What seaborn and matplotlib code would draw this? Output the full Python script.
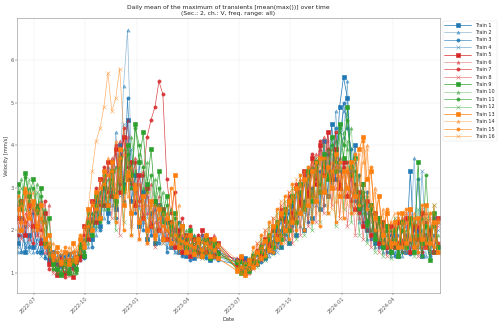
import numpy as np
import pandas as pd
import matplotlib
matplotlib.use("Agg")
import matplotlib.pyplot as plt
import matplotlib.dates as mdates
import seaborn as sns

nan = np.nan

# weekly sampling of the daily means (x axis)
dates = pd.date_range("2022-06-02", periods=108, freq="7D")

train_1 = [1.7, 2.3, 1.5, 1.9, 1.6, 2.1, 1.5, 1.7, 1.3, 1.5, 1.2, 1.4,
           1.25, 1.45, 1.15, 1.35, 1.6, 1.4, 2.1, 1.8, 2.7, 2.1, 3.0, 2.4,
           3.6, 2.5, 4.0, 3.1, 4.6, 2.7, 3.3, 2.1, 2.9, 1.8, 2.4, 1.7,
           2.6, 1.8, 2.2, 1.6, 2.0, 1.5, 1.8, 1.4, 1.9, 1.35, 1.7, 1.4,
           1.8, 1.3, 1.6, 1.5, nan, nan, nan, nan, 1.3, 1.05, 1.35, 1.1,
           1.4, 1.2, 1.6, 1.35, 1.8, 1.5, 2.0, 1.6, 2.3, 1.7, 2.6, 1.9,
           2.9, 2.0, 3.3, 2.3, 3.6, 2.5, 4.1, 2.8, 4.5, 3.2, 4.9, 5.6,
           5.1, 3.4, 4.0, 2.5, 3.1, 2.0, 2.6, 1.7, 2.3, 1.6, 2.1, 1.5,
           1.9, 1.4, 2.2, 1.5, 3.4, 1.6, 2.0, 1.4, 1.9, 1.5, 2.3, 1.6]
train_2 = [1.5, 1.9, 1.6, 2.5, 1.5, 1.8, 1.6, 1.4, 1.5, 1.25, 1.4, 1.2,
           1.35, 1.15, 1.4, 1.25, 1.3, 1.8, 1.6, 2.4, 1.9, 2.9, 2.3, 3.5,
           2.6, 4.3, 3.2, 5.4, 6.7, 3.5, 2.6, 3.1, 2.2, 2.8, 1.9, 2.5,
           1.8, 2.3, 1.6, 2.1, 1.5, 1.9, 1.45, 1.7, 1.5, 1.9, 1.4, 1.6,
           1.4, 1.7, 1.35, 1.6, nan, nan, nan, nan, 1.1, 1.3, 1.0, 1.25,
           1.15, 1.45, 1.3, 1.7, 1.4, 1.9, 1.6, 2.2, 1.8, 2.5, 2.0, 2.8,
           2.1, 3.1, 2.4, 3.5, 2.6, 3.9, 2.9, 4.3, 3.3, 4.8, 3.6, 4.2,
           5.5, 2.9, 3.6, 2.2, 2.8, 1.8, 2.4, 1.6, 2.2, 1.5, 1.9, 1.4,
           1.5, 1.9, 1.4, 2.1, 1.6, 3.7, 1.5, 2.0, 1.4, 1.8, 1.5, 2.2]
train_3 = [1.9, 1.5, 2.1, 1.6, 2.4, 1.5, 1.8, 1.35, 1.6, 1.3, 1.5, 1.15,
           1.4, 1.2, 1.5, 1.1, 1.45, 1.35, 2.2, 1.6, 2.5, 2.0, 3.2, 2.2,
           3.0, 2.3, 3.8, 2.7, 5.1, 3.3, 2.4, 3.6, 2.0, 3.0, 1.9, 2.6,
           1.7, 2.4, 1.5, 2.0, 1.6, 2.2, 1.4, 1.8, 1.3, 1.6, 1.45, 1.9,
           1.35, 1.6, 1.45, 1.3, nan, nan, nan, nan, 1.2, 1.4, 1.1, 1.3,
           1.2, 1.5, 1.25, 1.55, 1.5, 1.75, 1.7, 2.0, 1.9, 2.4, 2.1, 2.2,
           2.4, 2.7, 2.2, 3.0, 2.7, 3.4, 2.6, 3.8, 3.0, 4.4, 3.4, 5.0,
           4.4, 3.9, 2.7, 3.3, 2.2, 2.9, 1.8, 2.4, 1.6, 2.1, 1.5, 1.9,
           1.4, 1.7, 1.5, 1.9, 1.45, 2.0, 3.2, 1.5, 1.8, 1.4, 1.9, 1.6]
train_4 = [1.6, 2.0, 1.7, 1.5, 2.0, 1.7, 1.4, 1.6, 1.4, 1.5, 1.3, 1.45,
           1.2, 1.4, 1.25, 1.5, 1.35, 1.7, 1.9, 2.3, 2.0, 2.6, 2.8, 2.2,
           3.3, 3.8, 2.8, 4.5, 3.6, 3.9, 2.9, 2.5, 3.3, 2.3, 2.7, 2.0,
           2.3, 1.7, 2.0, 1.8, 1.5, 1.9, 1.6, 1.5, 1.7, 1.5, 1.8, 1.35,
           1.5, 1.45, 1.7, 1.4, nan, nan, nan, nan, 1.15, 1.25, 1.3, 1.05,
           1.3, 1.4, 1.5, 1.3, 1.65, 1.7, 1.5, 1.9, 2.1, 2.0, 2.4, 2.3,
           2.6, 2.4, 3.1, 2.6, 3.4, 2.8, 3.3, 3.6, 3.1, 4.1, 4.3, 4.8,
           4.7, 3.6, 3.1, 2.8, 2.5, 2.4, 2.2, 2.0, 1.7, 2.0, 1.6, 1.8,
           1.6, 1.5, 1.8, 1.7, 1.5, 1.9, 1.6, 3.4, 1.7, 1.9, 1.5, 2.0]
train_5 = [2.3, 2.7, 1.9, 2.6, 2.1, 2.5, 1.7, 2.4, 1.2, 1.4, 0.95, 1.2,
           1.0, 1.3, 0.9, 1.25, 1.4, 2.1, 1.8, 2.7, 2.2, 3.2, 2.6, 3.6,
           2.8, 3.9, 2.9, 4.2, 3.2, 3.6, 2.6, 3.3, 2.3, 3.0, 2.1, 2.7,
           2.0, 2.5, 1.8, 2.2, 1.6, 2.0, 1.5, 1.9, 1.4, 1.8, 1.5, 2.0,
           1.5, 1.8, 1.4, 1.7, nan, nan, nan, nan, 1.2, 1.35, 1.0, 1.3,
           1.2, 1.5, 1.4, 1.8, 1.6, 2.0, 1.8, 2.3, 2.0, 2.7, 2.3, 3.0,
           2.6, 3.4, 2.8, 3.7, 3.1, 4.0, 3.3, 4.3, 3.2, 3.9, 3.0, 3.6,
           2.8, 3.3, 2.5, 2.9, 2.1, 2.7, 1.9, 2.4, 1.7, 2.2, 1.6, 2.1,
           1.6, 2.2, 1.7, 2.3, 1.5, 2.1, 1.8, 2.4, 1.6, 2.0, 1.5, 2.3]
train_6 = [2.6, 2.0, 2.8, 1.8, 2.5, 1.9, 2.7, 1.5, 2.6, 1.1, 1.3, 1.0,
           1.2, 0.95, 1.3, 1.05, 1.7, 1.5, 2.3, 2.0, 2.9, 2.4, 3.4, 2.8,
           3.7, 3.0, 4.1, 3.3, 4.6, 3.0, 3.7, 2.6, 3.4, 2.4, 3.1, 2.2,
           2.8, 1.9, 2.4, 1.7, 2.1, 1.6, 1.9, 1.5, 1.8, 1.6, 1.9, 1.45,
           1.75, 1.5, 1.9, 1.4, nan, nan, nan, nan, 1.35, 1.1, 1.25, 1.0,
           1.4, 1.3, 1.7, 1.5, 1.9, 1.7, 2.2, 1.9, 2.5, 2.1, 2.8, 2.4,
           3.2, 2.6, 3.5, 2.9, 3.8, 3.1, 4.2, 3.4, 3.9, 3.0, 3.7, 2.8,
           3.4, 2.6, 3.0, 2.3, 2.6, 2.0, 2.4, 1.8, 2.2, 1.6, 2.0, 1.7,
           2.1, 1.6, 2.3, 1.8, 2.5, 1.7, 2.2, 1.6, 2.4, 1.9, 2.2, 1.7]
train_7 = [1.9, 2.5, 2.2, 2.8, 1.7, 2.6, 2.0, 2.7, 1.1, 1.3, 1.05, 1.35,
           0.9, 1.2, 1.1, 1.4, 1.3, 1.9, 2.5, 2.2, 3.0, 2.6, 3.5, 2.9,
           3.4, 4.0, 3.1, 4.4, 3.5, 3.1, 3.6, 2.7, 3.3, 4.2, 4.6, 4.9,
           5.5, 5.2, 3.2, 2.4, 2.9, 1.9, 2.3, 1.7, 2.1, 1.6, 1.9, 1.5,
           1.9, 1.6, 1.8, 1.5, nan, nan, nan, nan, 1.15, 1.3, 1.0, 1.25,
           1.3, 1.55, 1.45, 1.75, 1.7, 2.1, 1.9, 2.5, 2.2, 2.8, 2.4, 3.1,
           2.7, 3.3, 2.9, 3.8, 3.2, 4.1, 3.5, 3.9, 3.3, 4.3, 3.1, 3.5,
           3.6, 2.7, 3.1, 2.4, 2.8, 2.2, 2.5, 1.9, 2.3, 1.7, 2.1, 1.6,
           2.2, 1.7, 2.0, 1.6, 2.3, 1.8, 2.1, 1.5, 2.2, 1.8, 2.4, 1.7]
train_8 = [2.2, 1.8, 2.4, 2.1, 2.6, 1.9, 2.3, 1.8, 1.5, 1.0, 1.2, 0.95,
           1.15, 1.0, 1.25, 1.1, 1.5, 1.7, 1.9, 2.6, 2.4, 2.8, 3.0, 3.4,
           2.3, 3.5, 1.9, 3.2, 4.2, 2.1, 2.9, 1.8, 2.6, 1.7, 2.2, 1.6,
           2.2, 2.1, 2.0, 1.9, 1.8, 1.7, 1.65, 1.8, 1.55, 1.7, 1.6, 1.75,
           1.55, 1.7, 1.5, 1.6, nan, nan, nan, nan, 1.25, 1.15, 1.3, 1.1,
           1.1, 1.7, 1.3, 2.0, 1.5, 2.3, 1.6, 2.6, 1.8, 2.9, 1.7, 3.1,
           1.9, 3.3, 2.1, 3.6, 2.2, 3.9, 2.4, 4.1, 2.6, 3.8, 2.3, 3.5,
           2.1, 3.2, 1.9, 2.9, 1.8, 2.6, 1.6, 2.4, 1.5, 2.1, 1.4, 2.0,
           1.6, 2.3, 1.5, 2.4, 1.7, 2.2, 1.4, 2.5, 1.6, 2.3, 1.5, 2.1]
train_9 = [3.1, 2.6, 3.35, 2.8, 3.2, 2.5, 3.0, 1.7, 2.3, 1.2, 1.1, 0.95,
           1.2, 1.0, 1.3, 1.1, 1.6, 1.4, 2.2, 1.9, 2.8, 2.3, 3.1, 2.6,
           3.4, 2.7, 3.7, 3.0, 4.0, 3.3, 4.5, 3.6, 4.3, 3.1, 3.9, 2.7,
           3.4, 2.4, 2.8, 2.1, 2.4, 1.8, 2.1, 1.6, 2.0, 1.5, 1.8, 1.4,
           1.8, 1.35, 1.7, 1.4, nan, nan, nan, nan, 1.25, 1.0, 1.2, 1.05,
           1.4, 1.25, 1.6, 1.4, 1.9, 1.6, 2.2, 1.8, 2.5, 2.0, 2.8, 2.2,
           3.1, 2.5, 3.4, 2.7, 3.6, 2.9, 3.8, 3.2, 4.2, 3.4, 4.5, 3.7,
           4.9, 3.5, 3.7, 2.6, 3.1, 2.2, 2.6, 1.8, 2.3, 1.6, 2.1, 1.5,
           2.0, 1.4, 2.2, 1.6, 2.3, 1.5, 3.6, 1.7, 2.1, 1.3, 2.4, 1.6]
train_10 = [2.7, 3.2, 2.5, 3.0, 2.6, 3.1, 2.3, 2.5, 1.4, 1.3, 1.0, 1.2,
            1.05, 1.25, 1.0, 1.35, 1.5, 1.8, 1.7, 2.4, 2.1, 2.9, 2.5, 3.2,
            2.8, 3.5, 3.0, 3.9, 3.2, 4.2, 3.4, 3.8, 3.0, 3.6, 2.7, 3.2,
            2.3, 2.9, 2.0, 2.5, 1.8, 2.2, 1.7, 2.0, 1.6, 1.9, 1.5, 1.8,
            1.45, 1.75, 1.4, 1.7, nan, nan, nan, nan, 1.05, 1.3, 1.1, 1.35,
            1.2, 1.5, 1.35, 1.75, 1.55, 2.0, 1.75, 2.3, 1.95, 2.6, 2.2, 2.9,
            2.4, 3.2, 2.6, 3.5, 2.8, 3.7, 3.0, 3.9, 3.2, 4.1, 3.5, 4.3,
            3.9, 4.4, 2.9, 3.3, 2.4, 2.8, 2.0, 2.4, 1.8, 2.2, 1.7, 2.0,
            1.6, 2.1, 1.5, 2.0, 1.7, 2.2, 1.6, 2.3, 1.8, 2.1, 1.5, 1.9]
train_11 = [2.9, 2.5, 3.25, 2.7, 3.0, 2.4, 2.8, 2.2, 1.6, 1.1, 1.3, 1.0,
            1.3, 1.1, 1.2, 1.0, 1.7, 1.5, 2.4, 2.0, 2.6, 2.2, 3.3, 2.5,
            3.2, 2.6, 3.5, 2.9, 3.8, 3.0, 4.4, 4.0, 3.5, 2.9, 3.3, 2.6,
            3.0, 2.2, 2.6, 1.9, 2.3, 1.7, 2.1, 1.6, 1.9, 1.55, 1.8, 1.5,
            1.7, 1.45, 1.65, 1.5, nan, nan, nan, nan, 1.1, 1.25, 0.95, 1.2,
            1.25, 1.45, 1.5, 1.4, 1.8, 1.7, 2.1, 1.9, 2.4, 2.2, 2.7, 2.4,
            2.9, 2.6, 3.3, 2.8, 3.5, 3.1, 3.7, 3.3, 4.0, 3.6, 4.4, 4.0,
            4.6, 3.3, 3.4, 2.5, 2.9, 2.1, 2.5, 1.9, 2.2, 1.7, 2.0, 1.6,
            1.8, 1.5, 2.0, 1.6, 2.2, 1.5, 1.9, 1.4, 3.3, 1.7, 2.1, 1.5]
train_12 = [2.6, 3.0, 2.8, 3.2, 2.5, 2.9, 2.2, 2.0, 1.5, 1.25, 1.15, 1.05,
            1.15, 1.05, 1.2, 1.25, 1.45, 1.6, 2.0, 2.2, 2.5, 2.7, 2.6, 3.0,
            3.1, 2.0, 3.6, 2.2, 3.9, 1.9, 3.4, 2.1, 3.0, 1.8, 2.7, 1.7,
            2.6, 2.4, 2.2, 2.1, 1.9, 1.85, 1.75, 1.8, 1.65, 1.7, 1.6, 1.7,
            1.6, 1.55, 1.6, 1.5, nan, nan, nan, nan, 1.2, 1.15, 1.2, 1.1,
            1.5, 1.15, 1.8, 1.3, 2.1, 1.45, 2.4, 1.6, 2.7, 1.7, 3.0, 1.8,
            3.3, 1.9, 3.5, 2.0, 3.7, 2.2, 4.0, 2.4, 3.8, 2.1, 4.3, 2.5,
            4.1, 2.2, 3.3, 1.9, 2.8, 1.7, 2.5, 1.5, 2.2, 1.4, 2.0, 1.35,
            2.3, 1.5, 2.4, 1.6, 2.2, 1.4, 2.5, 1.7, 2.3, 1.5, 2.6, 1.6]
train_13 = [2.5, 2.0, 2.9, 2.3, 2.7, 2.1, 2.6, 1.8, 1.9, 1.4, 1.6, 1.25,
            1.5, 1.2, 1.7, 1.35, 1.8, 1.6, 2.5, 2.0, 2.9, 2.3, 3.4, 2.6,
            3.6, 2.8, 3.9, 2.6, 3.3, 2.4, 3.0, 2.2, 2.8, 2.0, 2.7, 1.9,
            2.5, 1.8, 2.3, 1.7, 3.3, 1.6, 2.1, 1.5, 1.9, 1.45, 1.8, 1.4,
            1.9, 1.4, 1.8, 1.35, nan, nan, nan, nan, 1.05, 1.4, 0.95, 1.3,
            1.15, 1.5, 1.35, 1.75, 1.55, 2.1, 1.8, 2.4, 2.0, 2.7, 2.2, 3.0,
            2.4, 3.2, 2.6, 3.4, 2.7, 3.7, 2.9, 3.5, 3.0, 3.8, 2.8, 3.4,
            3.0, 3.6, 2.8, 3.9, 4.2, 3.2, 3.4, 2.3, 2.8, 1.9, 2.4, 1.7,
            2.2, 1.6, 2.4, 1.7, 2.5, 1.6, 2.3, 1.8, 2.6, 1.7, 2.2, 1.5]
train_14 = [2.0, 2.6, 2.2, 2.9, 2.0, 2.5, 1.9, 2.2, 1.45, 1.7, 1.3, 1.55,
            1.2, 1.6, 1.3, 1.55, 1.5, 2.1, 1.9, 2.7, 2.3, 3.2, 2.7, 3.7,
            3.0, 4.1, 3.2, 3.8, 2.8, 3.5, 2.5, 3.1, 2.3, 2.9, 2.1, 2.6,
            2.0, 2.4, 1.8, 2.2, 1.7, 2.6, 1.6, 1.9, 1.5, 1.8, 1.4, 1.75,
            1.5, 1.8, 1.4, 1.7, nan, nan, nan, nan, 1.3, 1.0, 1.25, 1.1,
            1.4, 1.2, 1.6, 1.45, 1.9, 1.7, 2.2, 1.9, 2.5, 2.1, 2.8, 2.3,
            3.1, 2.5, 3.3, 2.8, 3.6, 2.9, 3.3, 2.8, 3.6, 2.7, 3.3, 2.9,
            3.5, 2.9, 3.7, 3.1, 3.6, 4.0, 2.6, 3.0, 2.0, 2.5, 1.8, 2.2,
            1.7, 2.3, 1.6, 2.2, 1.8, 2.4, 1.7, 2.2, 1.6, 2.4, 1.8, 2.3]
train_15 = [2.8, 2.2, 3.0, 2.4, 2.6, 2.0, 2.3, 1.6, 1.7, 1.3, 1.5, 1.2,
            1.6, 1.3, 1.5, 1.25, 1.9, 1.7, 2.1, 2.6, 2.5, 3.0, 3.1, 3.3,
            3.4, 2.2, 3.7, 2.0, 3.4, 1.9, 3.1, 1.8, 2.8, 1.7, 2.6, 1.8,
            2.3, 2.1, 2.0, 3.0, 1.9, 1.8, 1.75, 1.7, 1.65, 1.6, 1.7, 1.55,
            1.7, 1.6, 1.55, 1.65, nan, nan, nan, nan, 1.1, 1.15, 1.05, 1.2,
            1.6, 1.2, 1.9, 1.4, 2.2, 1.5, 2.5, 1.7, 2.8, 1.8, 3.1, 2.0,
            3.3, 2.0, 3.5, 2.2, 3.6, 2.1, 3.7, 2.4, 3.4, 2.2, 3.6, 2.3,
            3.4, 2.4, 3.8, 2.6, 4.1, 2.5, 3.5, 2.0, 2.8, 1.7, 2.5, 1.6,
            1.7, 2.4, 1.6, 2.5, 1.8, 2.3, 1.5, 2.6, 1.7, 2.4, 1.6, 2.2]
train_16 = [2.3, 2.7, 2.1, 2.6, 2.9, 2.2, 2.4, 1.7, 1.6, 1.5, 1.35, 1.45,
            1.3, 1.5, 1.25, 1.6, 1.75, 2.0, 2.5, 3.4, 4.1, 4.4, 4.9, 5.7,
            4.8, 5.1, 5.8, 4.3, 3.6, 3.2, 2.9, 2.7, 2.5, 2.6, 2.3, 2.4,
            2.6, 1.7, 2.4, 1.6, 2.2, 1.5, 2.0, 1.45, 1.9, 1.4, 1.8, 1.35,
            1.6, 1.65, 1.55, 1.6, nan, nan, nan, nan, 1.1, 1.05, 1.15, 1.1,
            1.2, 1.7, 1.3, 2.0, 1.5, 2.3, 1.6, 2.7, 1.7, 2.9, 1.9, 3.2,
            2.1, 3.4, 2.3, 3.6, 2.4, 3.3, 2.6, 3.7, 2.5, 3.5, 2.3, 3.3,
            2.6, 3.5, 2.4, 3.8, 2.7, 3.9, 2.2, 2.9, 1.8, 2.4, 1.6, 2.2,
            2.4, 1.6, 2.2, 1.5, 2.5, 1.7, 2.3, 1.6, 2.4, 1.5, 2.6, 1.7]

trains = [train_1, train_2, train_3, train_4, train_5, train_6, train_7, train_8,
          train_9, train_10, train_11, train_12, train_13, train_14, train_15, train_16]
train_labels = [f"Train {i}" for i in range(1, 17)]

group_colors = ["#1f77b4", "#d62728", "#2ca02c", "#ff7f0e"]
markers = ["s", "^", "o", "x"]
alphas = [1.0, 0.5, 0.85, 0.6]

sns.set_theme(style="whitegrid")
plt.rcParams.update({
    "font.family": ["DejaVu Sans"],
    "axes.edgecolor": "#888888",
    "axes.linewidth": 1.2,
    "grid.color": "#ebebeb",
    "grid.linewidth": 1.0,
    "xtick.bottom": True,
    "ytick.left": True,
    "xtick.color": "#555555",
    "ytick.color": "#555555",
    "xtick.major.size": 4,
    "ytick.major.size": 4,
    "xtick.major.width": 1.0,
    "ytick.major.width": 1.0,
})

DPI = 100 / 3
fig = plt.figure(figsize=(15, 9.75), dpi=DPI)
ax = fig.add_axes([0.034, 0.0985, 0.846, 0.8465])

for k, (vals, lab) in enumerate(zip(trains, train_labels)):
    g, m = divmod(k, 4)
    df = pd.DataFrame({"Date": dates, "v": vals}).dropna()
    col = group_colors[g]
    sns.lineplot(data=df, x="Date", y="v", ax=ax, color=col, alpha=alphas[m],
                 marker=markers[m], markersize=7, markeredgecolor=col,
                 markeredgewidth=1.3, linewidth=1.5, label=lab,
                 estimator=None, sort=True)

ax.set_xlim(pd.Timestamp("2022-06-01"), pd.Timestamp("2024-06-24"))
ax.set_ylim(0.53, 6.99)
ax.set_yticks([1, 2, 3, 4, 5, 6])
ax.xaxis.set_major_locator(mdates.MonthLocator(bymonth=[1, 4, 7, 10]))
ax.xaxis.set_major_formatter(mdates.DateFormatter("%Y-%m"))
for t in ax.get_xticklabels():
    t.set_rotation(45)
    t.set_ha("right")
    t.set_rotation_mode("anchor")
ax.tick_params(axis="both", labelsize=11, pad=3)
ax.set_xlabel("Date", fontsize=11, color="#333333")
ax.set_ylabel("Velocity [mm/s]", fontsize=11, color="#333333")
ax.set_title("Daily mean of the maximum of transients [mean(max())] over time\n"
             "(Sec.: 2, ch.: V, freq. range: all)", fontsize=13, color="#222222")

leg = ax.legend(loc="upper left", bbox_to_anchor=(1.006, 0.99), borderaxespad=0,
                fontsize=10.5, handlelength=5.5, frameon=True)
leg.get_frame().set_edgecolor("#dddddd")

fig.savefig("out.png", dpi=DPI)
